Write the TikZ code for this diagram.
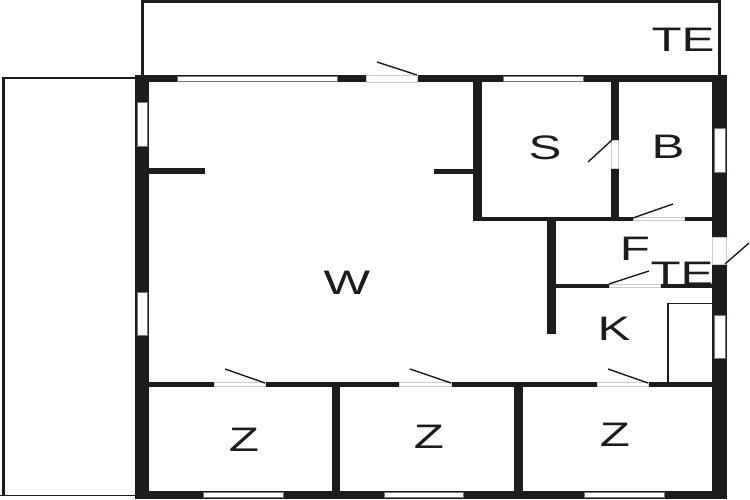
\documentclass[tikz,border=0pt]{standalone}
\usepackage{fontspec}
\setmainfont[FakeStretch=1.45]{Liberation Sans}
\definecolor{ink}{HTML}{1E1C1B}
\definecolor{paper}{HTML}{FFFFFD}
\tikzset{
  wall/.style={fill=ink,draw=none},
  glass/.style={fill=white,draw=ink!60,line width=0.5pt},
  opening/.style={fill=white,draw=black!20,line width=0.6pt},
  leaf/.style={draw=ink,line width=1.4pt},
  outline/.style={draw=ink,line width=3pt},
  room/.style={inner sep=0pt,text=ink,font=\fontsize{34}{34}\selectfont}
}
\begin{document}
\begin{tikzpicture}[x=1pt,y=-1pt]
\useasboundingbox (0,0) rectangle (750,500);
\fill[white] (0,0) rectangle (750,500);
% floor and balconies
\fill[paper] (3,78) rectangle (135,495);
\fill[paper] (143,2) rectangle (719,75);
\fill[paper] (149,82) rectangle (712,491);
% thin outlines
\draw[outline] (142.5,75) -- (142.5,1.5) -- (719,1.5) -- (719,75);
\draw[outline,line width=2pt] (135,78.5) -- (2,78.5);
\draw[outline,line width=3.4pt] (3.3,78) -- (3.3,495);
\draw[outline,line width=1.8pt] (0,495.5) -- (135,495.5);
% outer walls
\fill[wall] (135,75) rectangle (727,82.5);
\fill[wall] (135,75) rectangle (149,499);
\fill[wall] (712,75) rectangle (727,499);
\fill[wall] (135,491) rectangle (727,499);
% inner walls
\fill[wall] (473,82) rectangle (481.5,220.5);
\fill[wall] (473,216.5) rectangle (712,221);
\fill[wall] (611,82) rectangle (619,217);
\fill[wall] (149,168.5) rectangle (205,174);
\fill[wall] (434,169) rectangle (473,174);
\fill[wall] (547,220) rectangle (556,334);
\fill[wall] (556,283.5) rectangle (712,288);
\fill[wall] (149,382) rectangle (712,386.5);
\fill[wall] (332,386) rectangle (340,491);
\fill[wall] (514,386) rectangle (523,491);
% cupboard
\draw[draw=ink,line width=1.5pt] (668,382) -- (668,303.5) -- (712,303.5);
% windows
\draw[glass] (177,76.5) rectangle (337,81);
\draw[glass] (503,76.5) rectangle (583,81);
\draw[glass] (137.5,102) rectangle (147.5,146);
\draw[glass] (137.5,292) rectangle (147.5,335);
\draw[glass] (714,128) rectangle (725,172);
\draw[glass] (714,315) rectangle (725,358);
\draw[glass] (203,492.5) rectangle (283,497.5);
\draw[glass] (384,492.5) rectangle (463,497.5);
\draw[glass] (584,492.5) rectangle (664,497.5);
% door openings
\draw[opening] (366,75.5) rectangle (417,82);
\draw[opening] (611.5,140) rectangle (618.5,168);
\draw[opening] (633,217) rectangle (684,220.5);
\draw[opening] (712.5,237) rectangle (726.5,264);
\draw[opening] (609,284) rectangle (660.5,287.5);
\draw[opening] (214,382.5) rectangle (265,386);
\draw[opening] (399,382.5) rectangle (451,386);
\draw[opening] (597,382.5) rectangle (648,386);
% door leaves
\draw[leaf] (417,75) -- (377,62);
\draw[leaf] (612,140) -- (588,162);
\draw[leaf] (633,218) -- (673,204);
\draw[leaf] (725,264) -- (749,243);
\draw[leaf] (609,284) -- (649,271);
\draw[leaf] (265,383) -- (225,369);
\draw[leaf] (451,383) -- (410,369);
\draw[leaf] (648,383) -- (608,369);
% labels
\node[room] (te1) at (683,40) {TE};
\node[room] (s) at (545,148) {S};
\node[room] (b) at (668,147) {B};
\node[room] (f) at (635,249) {F};
\node[room] (te2) at (682,274) {TE};
\node[room] (k) at (614,329) {K};
\node[room] (w) at (347,283) {W};
\node[room] (z1) at (244,440) {Z};
\node[room] (z2) at (429,437) {Z};
\node[room] (z3) at (615,435) {Z};
\end{tikzpicture}
\end{document}
